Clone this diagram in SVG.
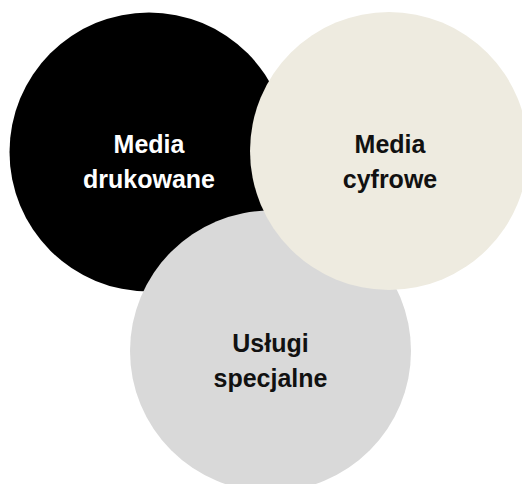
<svg xmlns="http://www.w3.org/2000/svg" width="522" height="484" viewBox="0 0 522 484">
<style>
.lbl{font-family:"Liberation Sans",Arial,sans-serif;font-weight:bold;font-size:25px;text-anchor:middle}
.dark{fill:#111111}
.light{fill:#ffffff}
</style>
<rect width="522" height="484" fill="#ffffff"/>
<g id="node-print">
<circle cx="149" cy="152" r="139.5" fill="#000000"/>
</g>
<g id="node-special">
<circle cx="270.5" cy="351" r="140.5" fill="#d9d9d9"/>
</g>
<g id="node-digital">
<circle cx="389" cy="151" r="139" fill="#eeebe0"/>
</g>
<g id="connectors"></g>
<g id="labels">
<text class="lbl light" x="149" y="153">Media</text>
<text class="lbl light" x="149" y="188">drukowane</text>
<text class="lbl dark" x="390" y="153">Media</text>
<text class="lbl dark" x="390" y="188">cyfrowe</text>
<text class="lbl dark" x="270.5" y="352">Usługi</text>
<text class="lbl dark" x="270.5" y="387">specjalne</text>
</g>
</svg>
